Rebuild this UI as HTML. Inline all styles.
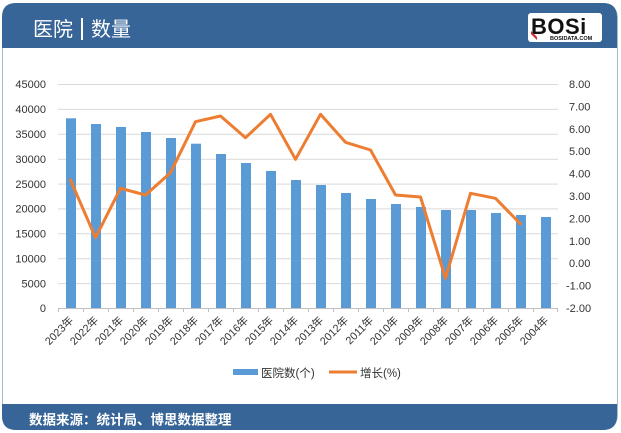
<!DOCTYPE html>
<html><head><meta charset="utf-8">
<style>
html,body{margin:0;padding:0;background:#fff;}
body{width:621px;height:433px;position:relative;overflow:hidden;font-family:"Liberation Sans","Noto Sans CJK SC",sans-serif;}
</style></head>
<body>
<svg width="621" height="433" viewBox="0 0 621 433" xmlns="http://www.w3.org/2000/svg" style="position:absolute;left:0;top:0">
  <!-- card -->
  <rect x="2.5" y="3.5" width="615" height="426" rx="14" ry="14" fill="#fff" stroke="#a9bccf" stroke-width="1"/>
  <!-- header -->
  <path d="M2,48 L2,17 Q2,3 16,3 L603,3 Q617,3 617,17 L617,48 Z" fill="#376598"/>
  <text x="33" y="36" font-size="20" fill="#fff" font-family="'Liberation Sans','Noto Sans CJK SC',sans-serif">医院</text>
  <rect x="81" y="18" width="2" height="22" fill="#fff"/>
  <text x="91" y="36" font-size="20" fill="#fff" font-family="'Liberation Sans','Noto Sans CJK SC',sans-serif">数量</text>
  <!-- logo -->
  <rect x="528" y="13" width="74" height="29" rx="3" fill="#fff"/>
  <text x="531" y="34" font-size="22" font-weight="bold" fill="#111" letter-spacing="0.5" font-family="'Liberation Sans',sans-serif">BOSi</text>
  <polygon points="531,31 537,37 537,40 531,34" fill="#c8282e"/>
  <text x="550" y="40" font-size="5.5" font-weight="bold" fill="#111" font-family="'Liberation Sans',sans-serif">BOSIDATA.COM</text>
  <!-- footer -->
  <path d="M2,404 L617,404 L617,416 Q617,430 603,430 L16,430 Q2,430 2,416 Z" fill="#376598"/>
  <text x="29" y="424.5" font-size="13.5" font-weight="bold" fill="#fff" font-family="'Liberation Sans','Noto Sans CJK SC',sans-serif">数据来源：统计局、博思数据整理</text>

  <!-- gridlines -->
  <g stroke="#d9d9d9" stroke-width="1">
    <line x1="58" x2="558" y1="84.5" y2="84.5"/>
    <line x1="58" x2="558" y1="109.4" y2="109.4"/>
    <line x1="58" x2="558" y1="134.3" y2="134.3"/>
    <line x1="58" x2="558" y1="159.2" y2="159.2"/>
    <line x1="58" x2="558" y1="184.1" y2="184.1"/>
    <line x1="58" x2="558" y1="208.9" y2="208.9"/>
    <line x1="58" x2="558" y1="233.8" y2="233.8"/>
    <line x1="58" x2="558" y1="258.7" y2="258.7"/>
    <line x1="58" x2="558" y1="283.6" y2="283.6"/>
  </g>
  <!-- left axis labels -->
  <g font-size="11" fill="#333" text-anchor="end" font-family="'Liberation Sans',sans-serif">
    <text x="46" y="88">45000</text>
    <text x="46" y="113">40000</text>
    <text x="46" y="138">35000</text>
    <text x="46" y="163">30000</text>
    <text x="46" y="188">25000</text>
    <text x="46" y="212.5">20000</text>
    <text x="46" y="237.5">15000</text>
    <text x="46" y="262.5">10000</text>
    <text x="46" y="287.5">5000</text>
    <text x="46" y="312">0</text>
  </g>
  <!-- right axis labels -->
  <g font-size="11" fill="#333" font-family="'Liberation Sans',sans-serif">
    <text x="569" y="88">8.00</text>
    <text x="569" y="110.4">7.00</text>
    <text x="569" y="132.8">6.00</text>
    <text x="569" y="155.2">5.00</text>
    <text x="569" y="177.6">4.00</text>
    <text x="569" y="200">3.00</text>
    <text x="569" y="222.4">2.00</text>
    <text x="569" y="244.8">1.00</text>
    <text x="569" y="267.2">0.00</text>
    <text x="566" y="289.6">-1.00</text>
    <text x="566" y="312">-2.00</text>
  </g>
  <!-- bars -->
  <g fill="#5b9bd5">
    <rect x="66" y="118.3" width="10" height="189.7"/>
    <rect x="91" y="124" width="10" height="184"/>
    <rect x="116" y="127" width="10" height="181"/>
    <rect x="141" y="132" width="10" height="176"/>
    <rect x="166" y="138" width="10" height="170"/>
    <rect x="191" y="143.7" width="10" height="164.3"/>
    <rect x="216" y="154" width="10" height="154"/>
    <rect x="241" y="163" width="10" height="145"/>
    <rect x="266" y="171" width="10" height="137"/>
    <rect x="291" y="180" width="10" height="128"/>
    <rect x="316" y="185" width="10" height="123"/>
    <rect x="341" y="193" width="10" height="115"/>
    <rect x="366" y="199" width="10" height="109"/>
    <rect x="391" y="204" width="10" height="104"/>
    <rect x="416" y="207" width="10" height="101"/>
    <rect x="441" y="210" width="10" height="98"/>
    <rect x="466" y="210" width="10" height="98"/>
    <rect x="491" y="213" width="10" height="95"/>
    <rect x="516" y="215" width="10" height="93"/>
    <rect x="541" y="217" width="10" height="91"/>
  </g>
  <!-- x axis -->
  <line x1="58" x2="558" y1="308.5" y2="308.5" stroke="#bfbfbf" stroke-width="1"/>
  <g stroke="#bfbfbf" stroke-width="1">
    <line x1="58.5" x2="58.5" y1="308" y2="312"/><line x1="83.5" x2="83.5" y1="308" y2="312"/>
    <line x1="108.5" x2="108.5" y1="308" y2="312"/><line x1="133.5" x2="133.5" y1="308" y2="312"/>
    <line x1="158.5" x2="158.5" y1="308" y2="312"/><line x1="183.5" x2="183.5" y1="308" y2="312"/>
    <line x1="208.5" x2="208.5" y1="308" y2="312"/><line x1="233.5" x2="233.5" y1="308" y2="312"/>
    <line x1="258.5" x2="258.5" y1="308" y2="312"/><line x1="283.5" x2="283.5" y1="308" y2="312"/>
    <line x1="308.5" x2="308.5" y1="308" y2="312"/><line x1="333.5" x2="333.5" y1="308" y2="312"/>
    <line x1="358.5" x2="358.5" y1="308" y2="312"/><line x1="383.5" x2="383.5" y1="308" y2="312"/>
    <line x1="408.5" x2="408.5" y1="308" y2="312"/><line x1="433.5" x2="433.5" y1="308" y2="312"/>
    <line x1="458.5" x2="458.5" y1="308" y2="312"/><line x1="483.5" x2="483.5" y1="308" y2="312"/>
    <line x1="508.5" x2="508.5" y1="308" y2="312"/><line x1="533.5" x2="533.5" y1="308" y2="312"/>
    <line x1="557.5" x2="557.5" y1="308" y2="312"/>
  </g>
  <!-- line series -->
  <polyline fill="none" stroke="#ed7d31" stroke-width="3" stroke-linejoin="round" stroke-linecap="round"
    points="70.5,180 95.5,237.7 120.5,188.3 145.5,195 170.5,172.7 195.5,121.7 220.5,116 245.5,137.7 270.5,114.3 295.5,159.3 320.5,114.3 345.5,142.3 370.5,150 395.5,195 420.5,197 445.5,278.3 470.5,193.3 495.5,198.3 520.5,224"/>
  <!-- x labels -->
  <g font-size="10.8" fill="#333" text-anchor="end" font-family="'Liberation Sans','Noto Sans CJK SC',sans-serif">
    <text transform="translate(74,321) rotate(-45)">2023年</text>
    <text transform="translate(99,321) rotate(-45)">2022年</text>
    <text transform="translate(124,321) rotate(-45)">2021年</text>
    <text transform="translate(149,321) rotate(-45)">2020年</text>
    <text transform="translate(174,321) rotate(-45)">2019年</text>
    <text transform="translate(199,321) rotate(-45)">2018年</text>
    <text transform="translate(224,321) rotate(-45)">2017年</text>
    <text transform="translate(249,321) rotate(-45)">2016年</text>
    <text transform="translate(274,321) rotate(-45)">2015年</text>
    <text transform="translate(299,321) rotate(-45)">2014年</text>
    <text transform="translate(324,321) rotate(-45)">2013年</text>
    <text transform="translate(349,321) rotate(-45)">2012年</text>
    <text transform="translate(374,321) rotate(-45)">2011年</text>
    <text transform="translate(399,321) rotate(-45)">2010年</text>
    <text transform="translate(424,321) rotate(-45)">2009年</text>
    <text transform="translate(449,321) rotate(-45)">2008年</text>
    <text transform="translate(474,321) rotate(-45)">2007年</text>
    <text transform="translate(499,321) rotate(-45)">2006年</text>
    <text transform="translate(524,321) rotate(-45)">2005年</text>
    <text transform="translate(549,321) rotate(-45)">2004年</text>
  </g>
  <!-- legend -->
  <rect x="233" y="369" width="25" height="6" fill="#5b9bd5"/>
  <text x="261" y="377" font-size="11.5" fill="#333" font-family="'Liberation Sans','Noto Sans CJK SC',sans-serif">医院数(个)</text>
  <line x1="329" x2="357" y1="372" y2="372" stroke="#ed7d31" stroke-width="3"/>
  <text x="360" y="377" font-size="11.5" fill="#333" font-family="'Liberation Sans','Noto Sans CJK SC',sans-serif">增长(%)</text>
</svg>
</body></html>
